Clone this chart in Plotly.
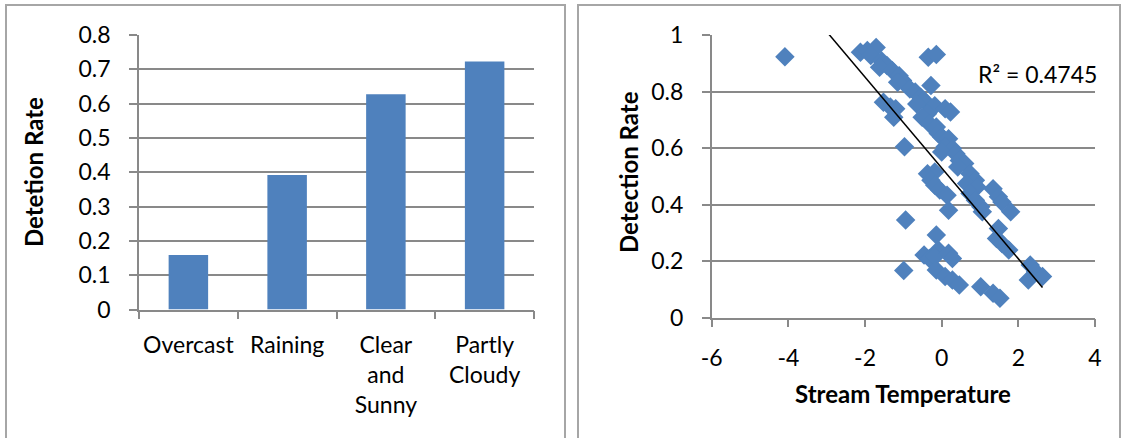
import numpy as np
import plotly.graph_objects as go

W, H = 1125, 438

# Detection rate by weather condition
weather = ["Overcast", "Raining", "Clear<br>and<br>Sunny", "Partly<br>Cloudy"]
weather_rate = [0.159, 0.392, 0.627, 0.723]
bar_ticks = [0, 0.1, 0.2, 0.3, 0.4, 0.5, 0.6, 0.7, 0.8]

# Detection rate vs. stream temperature
stream_temp = [
    -4.09, -2.12, -1.94, -1.71, -1.85, -1.57, -1.43, -1.62, -1.29, -1.11,
    -1.02, -1.15, -0.35, -0.14, -0.28, -0.83, -0.69, -0.55, -0.46, -0.65,
    -1.52, -1.34, -1.20, -1.25, -0.18, 0.09, 0.23, -0.37, -0.51, -0.32,
    -0.14, -0.09, 0.00, -0.97, 0.18, 0.09, 0.28, 0.00, 0.37, 0.46,
    0.60, 0.42, -0.37, -0.18, -0.28, -0.18, -0.05, 0.14, 0.18, 0.74,
    0.88, 0.65, 0.92, 0.74, 0.88, 1.02, 1.06, 1.34, 1.48, 1.57,
    1.80, -0.94, -0.14, 1.48, 1.43, 1.57, 1.75, -0.46, -0.32, -0.09,
    -0.18, 0.18, 0.28, -0.99, -0.14, 0.09, 0.28, 0.46, 1.02, 1.34,
    1.52, 2.31, 2.45, 2.63, 2.26,
]
detect_rate = [
    0.923, 0.939, 0.945, 0.956, 0.927, 0.909, 0.892, 0.886, 0.874, 0.856,
    0.839, 0.833, 0.921, 0.931, 0.821, 0.809, 0.798, 0.780, 0.768, 0.756,
    0.762, 0.745, 0.739, 0.709, 0.750, 0.739, 0.727, 0.721, 0.709, 0.686,
    0.674, 0.651, 0.639, 0.604, 0.633, 0.604, 0.598, 0.586, 0.580, 0.556,
    0.545, 0.533, 0.509, 0.515, 0.486, 0.468, 0.451, 0.433, 0.380, 0.509,
    0.486, 0.474, 0.462, 0.439, 0.415, 0.392, 0.374, 0.456, 0.427, 0.409,
    0.374, 0.345, 0.292, 0.315, 0.280, 0.262, 0.239, 0.221, 0.209, 0.239,
    0.215, 0.227, 0.209, 0.166, 0.168, 0.145, 0.133, 0.115, 0.109, 0.086,
    0.068, 0.186, 0.162, 0.145, 0.133,
]
r2_label = "R² = 0.4745"
temp_ticks = [-6, -4, -2, 0, 2, 4]
rate_ticks = [0, 0.2, 0.4, 0.6, 0.8, 1]

BLUE = "#4F81BD"
GRID = "#898989"
FONT = "Lato"

# Linear trendline over the data's x range
slope, intercept = np.polyfit(stream_temp, detect_rate, 1)
trend_x = np.array([min(stream_temp), max(stream_temp)])
trend_y = slope * trend_x + intercept


def px(x):
    return x / W


def py(y):
    return 1 - y / H


fig = go.Figure()

fig.add_trace(go.Bar(
    x=weather, y=weather_rate, marker=dict(color=BLUE, line=dict(width=0)),
    width=0.4, xaxis="x", yaxis="y", showlegend=False,
))

fig.add_trace(go.Scatter(
    x=stream_temp, y=detect_rate, mode="markers",
    marker=dict(symbol="diamond", size=15, color=BLUE, line=dict(width=0)),
    xaxis="x2", yaxis="y2", showlegend=False,
))
fig.add_trace(go.Scatter(
    x=trend_x, y=trend_y, mode="lines", line=dict(color="black", width=1.5),
    xaxis="x2", yaxis="y2", showlegend=False,
))

tick_font = dict(family=FONT, size=23, color="black")
axis_common = dict(
    showline=True, linecolor=GRID, linewidth=1.5, ticks="outside",
    ticklen=8, tickcolor=GRID, tickwidth=1.5, tickfont=tick_font,
    zeroline=False, fixedrange=True, automargin=False,
)

fig.update_layout(
    width=W, height=H, autosize=False,
    margin=dict(l=0, r=0, t=0, b=0),
    paper_bgcolor="white", plot_bgcolor="white",
    bargap=0.6,
    xaxis=dict(
        domain=[px(139), px(534)], anchor="y", type="category",
        tickson="boundaries", showgrid=False, ticklabelstandoff=14,
        tickangle=0, **axis_common,
    ),
    yaxis=dict(
        domain=[py(309.5), py(35)], anchor="x", range=[0, 0.8],
        tickvals=bar_ticks, ticktext=[f"{v:g}" for v in bar_ticks],
        showgrid=True, gridcolor=GRID, gridwidth=1.5, ticklabelstandoff=14,
        **axis_common,
    ),
    xaxis2=dict(
        domain=[px(711.7), px(1095)], anchor="y2", range=[-6, 4],
        tickvals=temp_ticks, ticktext=[f"{v:g}" for v in temp_ticks],
        showgrid=False, ticklabelstandoff=11, tickangle=0,
        **axis_common,
    ),
    yaxis2=dict(
        domain=[py(317.5), py(35)], anchor="x2", range=[0, 1],
        tickvals=rate_ticks, ticktext=[f"{v:g}" for v in rate_ticks],
        showgrid=True, gridcolor=GRID, gridwidth=1.5, ticklabelstandoff=14,
        **axis_common,
    ),
)

title_font = dict(family=FONT, size=24, color="black", weight="bold")
label_pos = dict(xref="paper", yref="paper", xanchor="center",
                 yanchor="middle", showarrow=False)
fig.add_annotation(
    text="Detetion Rate", x=px(33), y=py(172), textangle=-90,
    font=title_font, **label_pos,
)
fig.add_annotation(
    text="Detection Rate", x=px(628), y=py(172), textangle=-90,
    font=title_font, **label_pos,
)
fig.add_annotation(
    text="Stream Temperature", x=px(903), y=py(393),
    font=title_font, **label_pos,
)
fig.add_annotation(
    text=r2_label, x=px(1037), y=py(74),
    font=dict(family=FONT, size=23, color="black"), **label_pos,
)

# Panel frames
for x0, x1 in [(6, 565), (578, 1120)]:
    fig.add_shape(
        type="rect", xref="paper", yref="paper",
        x0=px(x0), x1=px(x1), y0=py(460), y1=py(5),
        line=dict(color="#a6a6a6", width=2), layer="below",
    )

fig.write_html("out.html")
